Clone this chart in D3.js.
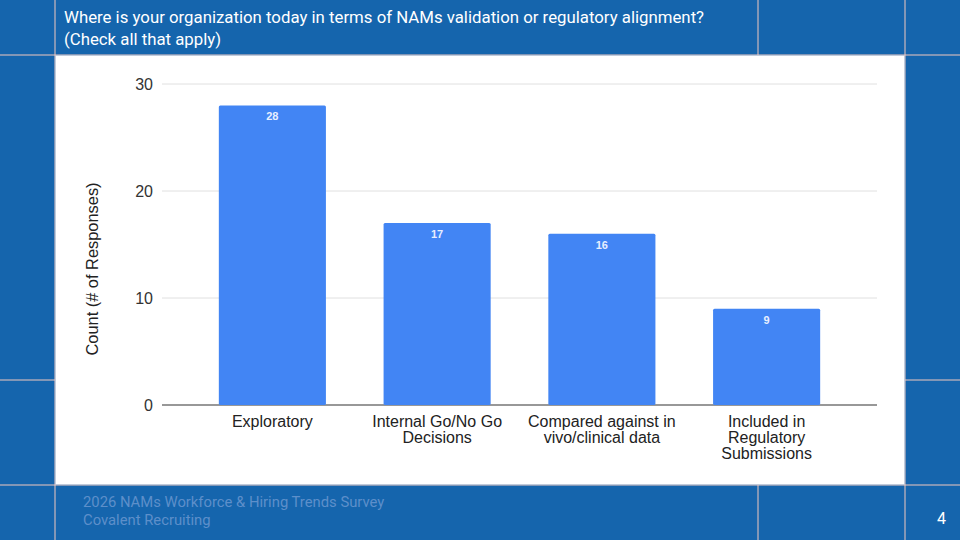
<!DOCTYPE html>
<meta charset="utf-8">
<style>
body { margin: 0; background: #1565ad; }
svg { display: block; font-family: Roboto, "Noto Sans", sans-serif; }
.chart text { font-family: "Liberation Sans", Arial, sans-serif; }
</style>
<script src="https://cdn.jsdelivr.net/npm/d3@7"></script>
<body>
<script>
var categories = [["Exploratory"], ["Internal Go/No Go", "Decisions"], ["Compared against in", "vivo/clinical data"], ["Included in", "Regulatory", "Submissions"]];
var counts = [28, 17, 16, 9];
var yTicks = [0, 10, 20, 30];

var svg = d3.select("body").append("svg").attr("width", 960).attr("height", 540);
svg.append("rect").attr("width", 960).attr("height", 540).attr("fill", "#1565ad");

// slide frame lines
var line = "#f1c9bf";
[[55, 0, 55, 540], [905, 0, 905, 540], [758, 0, 758, 55], [758, 485, 758, 540],
 [0, 55, 960, 55], [0, 485, 960, 485], [0, 380, 55, 380], [905, 380, 960, 380]].forEach(function(l) {
  svg.append("line").attr("x1", l[0]).attr("y1", l[1]).attr("x2", l[2]).attr("y2", l[3])
    .attr("stroke", line).attr("stroke-width", 1);
});
svg.append("rect").attr("x", 55.5).attr("y", 55.5).attr("width", 849).attr("height", 429).attr("fill", "#fff");

svg.append("text").attr("x", 64).attr("y", 23).attr("fill", "#fff").attr("font-size", 16.8)
  .text("Where is your organization today in terms of NAMs validation or regulatory alignment?");
svg.append("text").attr("x", 64).attr("y", 45).attr("fill", "#fff").attr("font-size", 16.8)
  .text("(Check all that apply)");
svg.append("text").attr("x", 83).attr("y", 507).attr("fill", "#5d8fca").attr("font-size", 14.8).text("2026 NAMs Workforce & Hiring Trends Survey");
svg.append("text").attr("x", 83).attr("y", 525).attr("fill", "#5d8fca").attr("font-size", 14.8).text("Covalent Recruiting");
svg.append("text").attr("x", 946).attr("y", 524).attr("fill", "#fff").attr("font-size", 16).attr("text-anchor", "end").text("4");

var x = d3.scaleBand().domain(d3.range(categories.length)).range([190, 849]).paddingInner(0.35).paddingOuter(0.175);
var y = d3.scaleLinear().domain([0, 30]).range([405, 84]);

var g = svg.append("g").attr("class", "chart");
g.selectAll(".grid").data(yTicks).join("line")
  .attr("x1", 162).attr("x2", 877).attr("y1", function(d) { return y(d); }).attr("y2", function(d) { return y(d); })
  .attr("stroke", function(d) { return d === 0 ? "#333" : "#e0e0e0"; }).attr("stroke-width", function(d) { return d === 0 ? 1.2 : 1; });
g.selectAll(".yt").data(yTicks).join("text")
  .attr("x", 153).attr("y", function(d) { return y(d) + 6; }).attr("text-anchor", "end")
  .attr("font-size", 16).attr("fill", "#333").text(function(d) { return d; });

g.selectAll(".bar").data(counts).join("rect")
  .attr("x", function(d, i) { return x(i); }).attr("width", x.bandwidth())
  .attr("y", function(d) { return y(d); }).attr("height", function(d) { return y(0) - y(d); })
  .attr("fill", "#4285f4").attr("rx", 1.5);
g.selectAll(".lbl").data(counts).join("text")
  .attr("x", function(d, i) { return x(i) + x.bandwidth() / 2; }).attr("y", function(d) { return y(d) + 15; })
  .attr("text-anchor", "middle").attr("font-size", 11).attr("font-weight", "bold").attr("fill", "#e8efff")
  .text(function(d) { return d; });

categories.forEach(function(lines, i) {
  var t = g.append("text").attr("text-anchor", "middle").attr("font-size", 16).attr("fill", "#222");
  lines.forEach(function(s, j) {
    t.append("tspan").attr("x", x(i) + x.bandwidth() / 2).attr("y", 427 + j * 16).text(s);
  });
});

g.append("text").attr("transform", "translate(98,269) rotate(-90)").attr("text-anchor", "middle")
  .attr("font-size", 16.4).attr("fill", "#222").text("Count (# of Responses)");
</script>
